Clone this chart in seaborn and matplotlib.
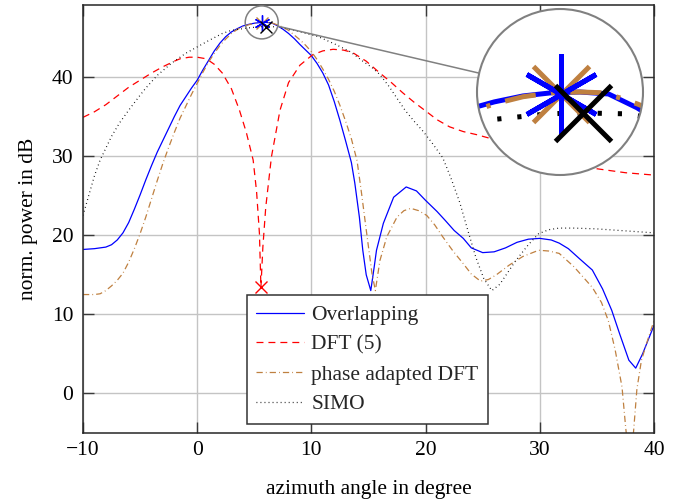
import numpy as np
import pandas as pd
import matplotlib
matplotlib.use("Agg")
import matplotlib.pyplot as plt
from matplotlib.patches import Circle, Ellipse
from matplotlib.lines import Line2D
from matplotlib.transforms import IdentityTransform
import seaborn as sns

# ---------------- data ----------------
ovl_x = [-10, -9, -8, -7.5, -7, -6.5, -6, -5.5, -5, -4.5, -4, -3.5, -3, -2.5, -2, -1.5, -1, -0.5,
         0, 0.5, 1, 1.5, 2, 2.5, 3, 3.5, 4, 4.5, 5, 5.5, 6, 6.5, 7, 7.5, 8, 8.5, 9, 9.5, 10, 10.5,
         11, 11.5, 12, 12.5, 13, 13.5, 13.8, 14.2, 14.5, 14.8, 15.2, 15.5, 15.7, 16.3, 17.2, 18.3,
         19.2, 20, 21, 21.7, 22.5, 23.3, 24, 25, 26, 27, 28, 29, 30, 31, 31.7, 32.5, 33.5, 34.6,
         35.5, 36.3, 37, 37.8, 38.4, 39, 39.5, 40]
ovl_y = [18.2, 18.3, 18.5, 18.8, 19.4, 20.3, 21.6, 23.3, 25.1, 27.0, 28.8, 30.5, 32.0, 33.5, 35.0,
         36.4, 37.5, 38.6, 39.6, 40.9, 42.1, 43.3, 44.3, 45.1, 45.7, 46.1, 46.45, 46.65, 46.8, 46.88,
         46.9, 46.85, 46.5, 46.05, 45.5, 44.85, 44.1, 43.4, 42.7, 41.7, 40.5, 39.0, 36.9, 34.5, 31.9,
         29.2, 26.6, 22.3, 18.1, 15.0, 13.0, 16.0, 18.1, 21.5, 24.8, 26.1, 25.6, 24.4, 23.0, 21.9,
         20.6, 19.6, 18.4, 17.8, 17.9, 18.4, 19.1, 19.5, 19.6, 19.4, 19.0, 18.3, 17.0, 15.6, 13.2,
         10.5, 7.5, 4.2, 3.2, 5.0, 6.8, 8.6]

dft_x = [-10, -9, -8, -7, -6, -5, -4, -3, -2, -1.5, -0.7, 0, 0.8, 1.5, 2.2, 3, 3.7, 4.3, 4.9,
         5.2, 5.45, 5.58, 5.75, 6.0, 6.5, 7.25, 8, 9, 10.1, 11, 11.9, 12.8, 13.6, 14.8, 16, 17,
         18, 19, 20.1, 21, 22.1, 23.3, 24.5, 26, 28, 30, 32, 35, 37.5, 40]
dft_y = [34.9, 35.6, 36.5, 37.6, 38.7, 39.6, 40.5, 41.3, 42.0, 42.3, 42.5, 42.5, 42.3, 41.6, 40.5,
         38.5, 35.8, 33.0, 29.5, 25.5, 20.2, 13.4, 18.5, 23.5, 29.9, 35.8, 39.3, 41.5, 42.8, 43.3,
         43.5, 43.4, 43.1, 42.0, 40.5, 39.3, 38.0, 36.8, 35.6, 34.6, 33.7, 33.1, 32.7, 32.1, 31.0,
         30.0, 29.3, 28.4, 27.9, 27.6]

pha_x = [-10, -9, -8.5, -8, -7.5, -7, -6.5, -6, -5.5, -5, -4.5, -4, -3.5, -3, -2.5, -2, -1.5, -1,
         -0.5, 0, 0.5, 1, 1.5, 2, 2.5, 3, 3.5, 4, 4.5, 5, 5.5, 6, 6.4, 6.7, 7, 7.5, 8, 8.5, 9, 9.5,
         10, 10.5, 11, 11.5, 12, 12.5, 13, 13.5, 14, 14.4, 14.8, 15.3, 15.6, 16, 16.6, 17.5, 18.1,
         18.7, 19.4, 20.1, 20.8, 21.5, 22.4, 23.3, 24, 24.8, 25.5, 26.2, 27.3, 28.5, 29.9, 30.8,
         31.7, 33, 34.6, 35.4, 36, 36.6, 37.2, 37.5, 37.85, 38.2, 38.5, 38.9, 39.5, 40]
pha_y = [12.5, 12.5, 12.6, 13.0, 13.6, 14.3, 15.2, 16.6, 18.3, 20.2, 22.3, 24.6, 26.9, 29.1, 31.1,
         33.0, 34.8, 36.3, 37.8, 39.2, 40.6, 41.9, 43.0, 44.0, 44.8, 45.5, 46.0, 46.35, 46.6, 46.78,
         46.88, 46.9, 46.88, 46.75, 46.6, 46.3, 45.9, 45.3, 44.7, 44.0, 43.2, 42.2, 41.0, 39.7, 38.2,
         36.4, 34.4, 32.2, 29.4, 25.2, 20.7, 15.2, 13.0, 16.8, 19.8, 22.3, 23.1, 23.4, 23.1, 22.5,
         21.3, 19.8, 18.0, 16.4, 15.1, 14.2, 14.4, 15.0, 16.2, 17.3, 18.1, 18.0, 17.7, 16.0, 13.4,
         11.5, 9.2, 5.5, 0.8, -4.0, -9.0, -5.0, 0.5, 4.2, 7.0, 9.2]

simo_x = [-10, -9.5, -9, -8.5, -8, -7.5, -6.8, -6, -5, -4.5, -3.5, -2.2, -1, 0, 1, 2.2, 3, 4.45,
          5.45, 6.05, 6.75, 7.5, 8.5, 10.6, 12, 13.4, 14.5, 15.3, 16, 16.8, 17.5, 18.2, 19, 19.8,
          20.6, 21.5, 22.2, 23, 23.7, 24.4, 25.1, 25.8, 26.5, 27.2, 27.9, 29, 29.9, 30.8, 31.7, 33,
          35, 37, 40]
simo_y = [22.5, 25.0, 27.5, 29.5, 31.0, 32.5, 34.2, 35.8, 37.7, 38.6, 40.2, 41.8, 43.0, 43.8, 44.6,
          45.5, 45.9, 46.2, 46.35, 46.37, 46.35, 46.2, 45.9, 45.1, 44.2, 43.2, 42.0, 41.2, 40.3, 38.8,
          37.3, 35.8, 34.4, 33.1, 31.6, 29.8, 27.3, 24.1, 20.6, 17.2, 14.5, 13.0, 13.8, 15.3, 16.8,
          18.8, 20.2, 20.7, 20.9, 20.9, 20.8, 20.6, 20.3]

# highlighted points (peaks / null)
ovl_peak = (5.67, 46.85)
pha_peak = (5.67, 46.85)
simo_peak = (6.05, 46.37)
dft_null = (5.58, 13.4)
spy_center = (5.65, 46.9)

labels = ["Overlapping", "DFT (5)", "phase adapted DFT", "SIMO"]
x_ticks = [-10, 0, 10, 20, 30, 40]
y_ticks = [0, 10, 20, 30, 40]

# ---------------- style ----------------
sns.set_theme(style="whitegrid")
plt.rcParams.update({
    "font.family": ["Liberation Serif", "DejaVu Serif"],
    "font.size": 15,
    "lines.scale_dashes": False,
    "axes.unicode_minus": True,
})

fig = plt.figure(figsize=(6.86, 4.99), dpi=100)
ax = fig.add_axes([83 / 686, 1 - 433 / 499, 571 / 686, 428 / 499])
ax.set_facecolor("white")

series = [
    (ovl_x, ovl_y, "#0000ff", "-"),
    (dft_x, dft_y, "#ff0000", (0, (5.0, 3.6))),
    (pha_x, pha_y, "#bf8040", (0, (4.5, 2.2, 0.6, 2.2))),
    (simo_x, simo_y, "black", (0, (0.6, 2.3))),
]


def scale_ls(ls, k):
    if isinstance(ls, tuple):
        return (0, tuple(v * k for v in ls[1]))
    return ls


handles = []
for (xs, ys, col, ls), lab in zip(series, labels):
    df = pd.DataFrame({"x": xs, "y": ys})
    sns.lineplot(data=df, x="x", y="y", ax=ax, color=col, linewidth=0.9,
                 estimator=None, sort=False, legend=False)
    ln = ax.lines[-1]
    ln.set_linestyle(ls)
    ln.set_label(lab)
    handles.append(ln)

# markers
ax.plot(*dft_null, marker="x", color="#ff0000", ms=8, mew=1.0, ls="none", zorder=6)
ax.plot(*pha_peak, marker="x", color="#bf8040", ms=8.2, mew=1.0, ls="none", zorder=6)
ax.plot(*ovl_peak, marker=(6, 2, 0), color="#0000ff", ms=11.5, mew=1.0, ls="none", zorder=6)
ax.plot(*simo_peak, marker="x", color="black", ms=8.2, mew=1.0, ls="none", zorder=6)

ax.set_xlim(-10, 40)
ax.set_ylim(-5, 49.1)
ax.set_xticks(x_ticks)
ax.set_yticks(y_ticks)
ax.grid(True, color="#c4c4c4", linewidth=1.0)
for sp in ax.spines.values():
    sp.set_color("#262626")
    sp.set_linewidth(1.1)
ax.tick_params(axis="both", which="both", direction="in", length=8, width=1.0,
               color="#3a3a3a", labelcolor="black", labelsize=15.5,
               bottom=True, left=True, top=True, right=True)
ax.tick_params(axis="x", pad=6)
ax.tick_params(axis="y", pad=7)
ax.set_xlabel("azimuth angle in degree", fontsize=15.5, color="black", labelpad=14)
ax.set_ylabel("norm. power in dB", fontsize=15.5, color="black", labelpad=10)

leg = ax.legend(handles=handles, loc="lower center", bbox_to_anchor=(0.498, 0.021),
                fontsize=15.5, frameon=True, fancybox=False, framealpha=1.0,
                edgecolor="#333333", handlelength=2.2, handletextpad=0.35,
                labelspacing=0.45, borderpad=0.45, borderaxespad=0.0)
leg.get_frame().set_linewidth(1.1)

# ---------------- magnifier ("spy") ----------------
mag = 5.0
r_small = 16.5  # px
fig.canvas.draw()
px_per_x = ax.bbox.width / 50.0
px_per_y = ax.bbox.height / (49.1 + 5)

ins = fig.add_axes([477 / 686, 1 - 175 / 499, 166 / 686, 166 / 499])
ins.axis("off")
ins.patch.set_visible(False)
half_w = ins.bbox.width / 2
ins.set_xlim(spy_center[0] - half_w / (px_per_x * mag), spy_center[0] + half_w / (px_per_x * mag))
ins.set_ylim(spy_center[1] - half_w / (px_per_y * mag), spy_center[1] + half_w / (px_per_y * mag))

bg = Circle((0.5, 0.5), 0.5, transform=ins.transAxes, facecolor="white",
            edgecolor="none", zorder=0)
ins.add_patch(bg)
for (xs, ys, col, ls) in series:
    df = pd.DataFrame({"x": xs, "y": ys})
    sns.lineplot(data=df, x="x", y="y", ax=ins, color=col, linewidth=3.6,
                 estimator=None, sort=False, legend=False)
    ins.lines[-1].set_linestyle(scale_ls(ls, mag))
ins.plot(*pha_peak, marker="x", color="#bf8040", ms=41, mew=3.6, ls="none")
ins.plot(*ovl_peak, marker=(6, 2, 0), color="#0000ff", ms=57.5, mew=3.6, ls="none")
ins.plot(*simo_peak, marker="x", color="black", ms=41, mew=3.6, ls="none")
for art in ins.lines:
    art.set_clip_path(bg)
ins.set_xlabel("")
ins.set_ylabel("")
ring = Circle((0.5, 0.5), 0.5, transform=ins.transAxes, facecolor="none",
              edgecolor="#808080", linewidth=1.5, zorder=10, clip_on=False)
ins.add_patch(ring)

small = Ellipse(spy_center, width=2 * r_small / px_per_x, height=2 * r_small / px_per_y,
                transform=ax.transData, facecolor="none", edgecolor="#808080",
                linewidth=1.1, zorder=7, clip_on=False)
ax.add_patch(small)

fig.canvas.draw()
p_small = ax.transData.transform(spy_center)
p_big = ins.transAxes.transform((0.5, 0.5))
d = p_big - p_small
u = d / np.hypot(*d)
start = p_small + u * r_small
end = p_big - u * half_w
fig.add_artist(Line2D([start[0], end[0]], [start[1], end[1]], transform=IdentityTransform(),
                      color="#808080", linewidth=1.1, zorder=8))

fig.savefig("out.png", dpi=100)
